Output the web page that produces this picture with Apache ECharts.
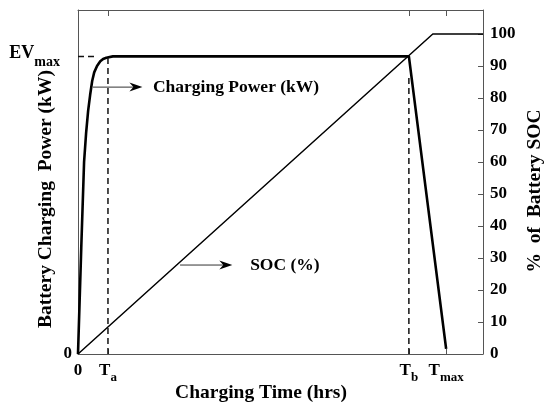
<!DOCTYPE html>
<html>
<head>
<meta charset="utf-8">
<script src="https://cdn.jsdelivr.net/npm/echarts@6/dist/echarts.min.js"></script>
<style>
html,body{margin:0;padding:0;background:#fff;}
#chart{width:550px;height:410px;}
</style>
</head>
<body>
<div id="chart"></div>
<script>
// ---- data (time in arbitrary units 0..100, power & SOC in %) ----
var Ta = 7.4, Tb = 81.7, Tmax = 90.9, EVmax = 93;
var powerTime  = [0, 0.8, 1.5, 2.0, 2.5, 3.0, 3.5, 4.0, 4.7, 5.5, 6.2, 7.0, 8.6, 81.7, 90.9];
var powerValue = [0, 33, 60, 69, 76, 81, 85.3, 88, 90, 91.5, 92.2, 92.6, 93, 93, 1.6];
var socTime  = [0, 87.6, 100];
var socValue = [0, 100, 100];
var xTickValues = [0, Ta, Tb, Tmax];
var xTickNames  = ['0', '{t|T}{s|a}', '{t|T}{s|b}', '{t|T}{s|max}'];
var socTicks = [0,10,20,30,40,50,60,70,80,90,100];
var annotations = [
  {from:[3.7,83.4], to:[15.9,83.4], text:'Charging Power (kW)', at:[18.5,83.4]},
  {from:[25.2,27.8], to:[38.1,27.8], text:'SOC (%)', at:[42.5,27.8]}
];

var FONT = '"Liberation Serif","Times New Roman",serif';
function zip(a,b){return a.map(function(v,i){return [v,b[i]];});}

var chart = echarts.init(document.getElementById('chart'));
var axisLineStyle = {color:'#555', width:1};
var subRich = {
  t:{fontSize:17, fontWeight:'bold', fontFamily:FONT, color:'#000', verticalAlign:'top'},
  s:{fontSize:13, fontWeight:'bold', fontFamily:FONT, color:'#000', padding:[9,0,0,0]},
  e:{fontSize:18, fontWeight:'bold', fontFamily:FONT, color:'#000', verticalAlign:'top'},
  m:{fontSize:14, fontWeight:'bold', fontFamily:FONT, color:'#000', padding:[11,12,0,0]}
};
function dashed(x1,y1,x2,y2){
  return {type:'line', data:[[x1,y1],[x2,y2]], symbol:'none', silent:true,
    lineStyle:{color:'#111', width:1.5, type:[6,4]}, z:1};
}
var series = [
  {name:'Power', type:'line', data:zip(powerTime,powerValue), symbol:'none', smooth:false,
   lineStyle:{color:'#000', width:2.6}, z:3},
  {name:'SOC', type:'line', data:zip(socTime,socValue), symbol:'none',
   lineStyle:{color:'#000', width:1.5}, z:3},
  dashed(0,EVmax,4.5,EVmax),
  dashed(Ta,0,Ta,92.4),
  dashed(Tb,0,Tb,87)
];

var titleFont = 'bold 19.5px '+FONT;
var baseGraphic = [
  {type:'text', x:261, y:393, style:{text:'Charging Time (hrs)', align:'center', verticalAlign:'middle',
    font:titleFont, fill:'#000'}},
  {type:'text', rotation:Math.PI/2, x:46, y:199, style:{text:'Battery Charging  Power (kW)', align:'center', verticalAlign:'middle',
    font:titleFont, fill:'#000'}},
  {type:'text', rotation:Math.PI/2, x:535, y:191, style:{text:'%  of  Battery SOC', align:'center', verticalAlign:'middle',
    font:titleFont, fill:'#000'}}
];

chart.setOption({
  animation:false,
  backgroundColor:'#fff',
  grid:{left:78, right:67, top:10, bottom:56, containLabel:false, outerBoundsMode:'none'},
  xAxis:[
    {type:'value', position:'bottom', min:0, max:100, splitLine:{show:false},
     axisLine:{show:true, onZero:false, lineStyle:axisLineStyle},
     axisTick:{show:true, inside:true, length:5, customValues:xTickValues, lineStyle:axisLineStyle},
     axisLabel:{customValues:xTickValues, margin:8, color:'#000', fontFamily:FONT, fontWeight:'bold', fontSize:17,
       rich:subRich,
       formatter:function(v){
         var best=0;xTickValues.forEach(function(t,i){if(Math.abs(t-v)<Math.abs(xTickValues[best]-v))best=i;});
         return xTickNames[best];
       }}},
    {type:'value', position:'top', min:0, max:100, splitLine:{show:false},
     axisLine:{show:true, onZero:false, lineStyle:axisLineStyle},
     axisTick:{show:true, inside:true, length:6, customValues:[Ta,Tb,Tmax], lineStyle:axisLineStyle},
     axisLabel:{show:false}}
  ],
  yAxis:[
    {type:'value', position:'left', min:0, max:107.5, splitLine:{show:false},
     axisLine:{show:true, onZero:false, lineStyle:axisLineStyle},
     axisTick:{show:false},
     axisLabel:{customValues:[0,EVmax], margin:6, color:'#000', fontFamily:FONT, fontWeight:'bold', fontSize:17,
       rich:subRich,
       formatter:function(v){return v===0?'0':'{e|EV}{m|max}';}}},
    {type:'value', position:'right', min:0, max:107.5, splitLine:{show:false},
     axisLine:{show:true, onZero:false, lineStyle:axisLineStyle},
     axisTick:{show:true, inside:true, length:5, customValues:socTicks, lineStyle:axisLineStyle},
     axisLabel:{customValues:socTicks, margin:7, color:'#000', fontFamily:FONT, fontWeight:'bold', fontSize:17}}
  ],
  graphic:baseGraphic,
  series:series
});

// annotation arrows and texts, placed through the chart's own scales
var extra = [];
annotations.forEach(function(a){
  var p1 = chart.convertToPixel({xAxisIndex:0, yAxisIndex:0}, a.from);
  var p2 = chart.convertToPixel({xAxisIndex:0, yAxisIndex:0}, a.to);
  var pt = chart.convertToPixel({xAxisIndex:0, yAxisIndex:0}, a.at);
  extra.push({type:'line', shape:{x1:p1[0], y1:p1[1], x2:p2[0]-8, y2:p2[1]},
    style:{stroke:'#333', lineWidth:1}, z:10});
  extra.push({type:'polygon', shape:{points:[[p2[0],p2[1]],[p2[0]-13,p2[1]-4.5],[p2[0]-9,p2[1]],[p2[0]-13,p2[1]+4.5]]},
    style:{fill:'#000'}, z:10});
  extra.push({type:'text', x:pt[0], y:pt[1], style:{text:a.text, align:'left', verticalAlign:'middle',
    font:'bold 17.5px '+FONT, fill:'#000'}, z:10});
});
chart.setOption({graphic:baseGraphic.concat(extra)});
</script>
</body>
</html>
